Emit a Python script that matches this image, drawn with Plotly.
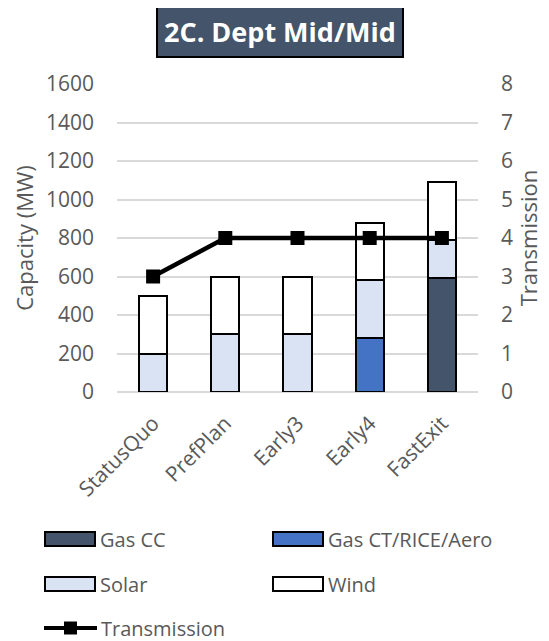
import plotly.graph_objects as go

categories = ["StatusQuo", "PrefPlan", "Early3", "Early4", "FastExit"]
gas_cc = [0, 0, 0, 0, 590]
gas_ct = [0, 0, 0, 280, 0]
solar = [200, 300, 300, 300, 200]
wind = [300, 300, 300, 300, 300]
transmission = [3, 4, 4, 4, 4]

FONT = "Open Sans"
GREY = "#595959"
OFF = 8  # page body margin
W, H = 549 - OFF, 641 - OFF
L, R, T, B = 117, 478, 84, 392  # plot area in reference pixels


def px_x(x):
    return (x - L) / (R - L)


def px_y(y):
    return (B - y) / (B - T)


fig = go.Figure()
series = [
    ("Gas CC", gas_cc, "#44546A"),
    ("Gas CT/RICE/Aero", gas_ct, "#4472C4"),
    ("Solar", solar, "#DAE3F3"),
    ("Wind", wind, "#FFFFFF"),
]
for name, vals, col in series:
    fig.add_trace(go.Bar(
        x=categories, y=vals, name=name, width=0.39,
        marker=dict(color=col, line=dict(color="black", width=2)),
        showlegend=False,
    ))

fig.add_trace(go.Scatter(
    x=categories, y=transmission, name="Transmission", yaxis="y2",
    mode="lines+markers",
    line=dict(color="black", width=4.5),
    marker=dict(symbol="square", size=14, color="black"),
    showlegend=False,
))

fig.update_layout(
    width=W, height=H,
    margin=dict(l=L - OFF, r=549 - R, t=T - OFF, b=641 - B, autoexpand=False),
    barmode="stack",
    plot_bgcolor="white", paper_bgcolor="white",
    font=dict(family=FONT, color=GREY, size=20),
    xaxis=dict(tickangle=-45, tickfont=dict(size=21, color=GREY),
               showline=False, ticks="", ticklabelstandoff=14,
               automargin=False),
    yaxis=dict(range=[0, 1600], dtick=200, gridcolor="#D9D9D9",
               gridwidth=1.5, zeroline=True, zerolinecolor="#D9D9D9",
               zerolinewidth=1.5, automargin=False,
               tickfont=dict(size=21, color=GREY), ticklabelstandoff=22,
               title=dict(text="Capacity (MW)", font=dict(size=22, color=GREY),
                          standoff=6)),
    yaxis2=dict(range=[0, 8], dtick=1, overlaying="y", side="right",
                showgrid=False, zeroline=False, automargin=False,
                tickfont=dict(size=21, color=GREY), ticklabelstandoff=22,
                title=dict(text="Transmission", font=dict(size=22, color=GREY),
                           standoff=4)),
    showlegend=False,
)

# Title box
fig.add_annotation(
    x=px_x(280), y=px_y(31.5), xref="paper", yref="paper",
    xanchor="center", yanchor="middle",
    text="<b>2C. Dept Mid/Mid</b>", showarrow=False,
    font=dict(family=FONT, size=27, color="white"),
    bgcolor="#44546A", bordercolor="black", borderwidth=2, borderpad=6,
)

# Manual legend
legend_items = [
    ("Gas CC", "#44546A", 45, 539),
    ("Gas CT/RICE/Aero", "#4472C4", 273, 539),
    ("Solar", "#DAE3F3", 45, 584),
    ("Wind", "#FFFFFF", 273, 584),
]
for name, col, x0, yc in legend_items:
    fig.add_shape(type="rect", xref="paper", yref="paper",
                  x0=px_x(x0), x1=px_x(x0 + 50), y0=px_y(yc - 7), y1=px_y(yc + 7),
                  fillcolor=col, line=dict(color="black", width=2))
    fig.add_annotation(x=px_x(x0 + 53), y=px_y(yc), xref="paper", yref="paper",
                       text=name, showarrow=False, xanchor="left", yanchor="middle",
                       font=dict(size=20, color=GREY))

fig.add_shape(type="line", xref="paper", yref="paper",
              x0=px_x(44), x1=px_x(97), y0=px_y(628), y1=px_y(628),
              line=dict(color="black", width=4))
fig.add_shape(type="rect", xref="paper", yref="paper",
              x0=px_x(64), x1=px_x(77), y0=px_y(621.5), y1=px_y(634.5),
              fillcolor="black", line=dict(color="black", width=0))
fig.add_annotation(x=px_x(99), y=px_y(628), xref="paper", yref="paper",
                   text="Transmission", showarrow=False, xanchor="left",
                   yanchor="middle", font=dict(size=20, color=GREY))

fig.write_html("out.html")
